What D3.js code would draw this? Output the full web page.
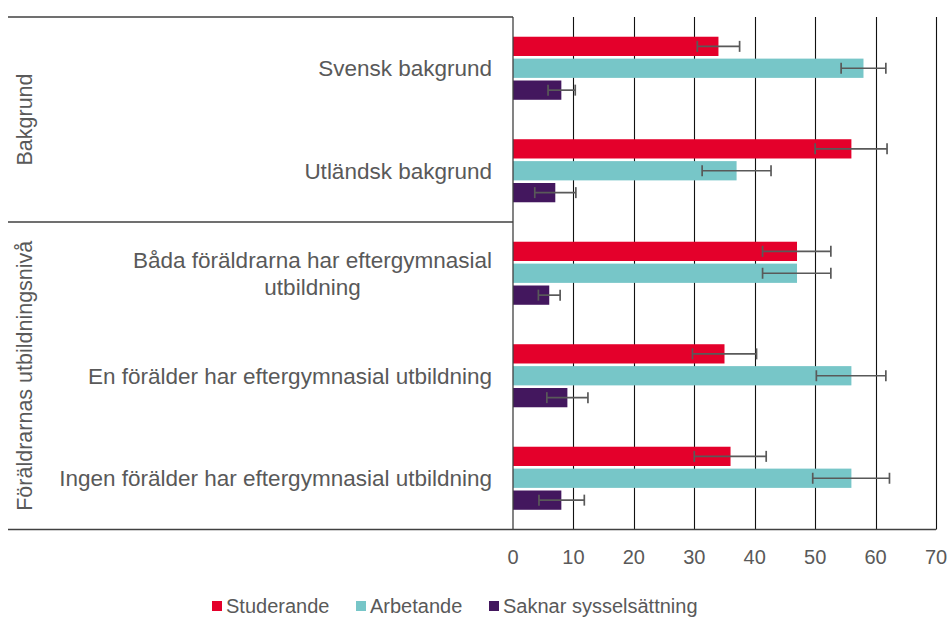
<!DOCTYPE html>
<meta charset="utf-8">
<style>
body { margin: 0; background: #fff; font-family: "Liberation Sans", Arial, sans-serif; }
text { fill: #595959; font-size: 20px; }
.cat { font-size: 22.5px; }
.grp { font-size: 21.5px; }
</style>
<body>
<script src="https://d3js.org/d3.v7.min.js"></script>
<script>

// data
var categories = [
  ["Svensk bakgrund"],
  ["Utländsk bakgrund"],
  ["Båda föräldrarna har eftergymnasial", "utbildning"],
  ["En förälder har eftergymnasial utbildning"],
  ["Ingen förälder har eftergymnasial utbildning"]
];
var groups = [
  {name: "Bakgrund", from: 0, to: 2},
  {name: "Föräldrarnas utbildningsnivå", from: 2, to: 5}
];
var seriesNames = ["Studerande", "Arbetande", "Saknar sysselsättning"];
var colors = ["#e4002b", "#77c6c8", "#43175e"];

var studerande = [34, 56, 47, 35, 36];
var arbetande = [58, 37, 47, 56, 56];
var saknar = [8, 7, 6, 9, 8];

var studerandeLo = [30.5, 50, 41.3, 29.7, 30];
var studerandeHi = [37.5, 61.9, 52.6, 40.3, 41.9];
var arbetandeLo = [54.3, 31.3, 41.3, 50.2, 49.6];
var arbetandeHi = [61.7, 42.7, 52.6, 61.7, 62.3];
var saknarLo = [5.8, 3.6, 4.2, 5.6, 4.3];
var saknarHi = [10.3, 10.4, 7.8, 12.4, 11.8];

var xTicks = [0, 10, 20, 30, 40, 50, 60, 70];

var values = [studerande, arbetande, saknar];
var lows = [studerandeLo, arbetandeLo, saknarLo];
var highs = [studerandeHi, arbetandeHi, saknarHi];

var W = 948, H = 617;
var plotTop = 17, plotBottom = 529.5, frameLeft = 8, x0px = 513;

var svg = d3.select("body").append("svg")
    .attr("width", W)
    .attr("height", H);

var x = d3.scaleLinear().domain([0, 70]).range([x0px, 936]);
var y0 = d3.scaleBand()
    .domain(d3.range(categories.length))
    .range([plotTop, plotBottom])
    .paddingInner(0.385)
    .paddingOuter(0.1925);
var y1 = d3.scaleBand()
    .domain(d3.range(seriesNames.length))
    .range([0, y0.bandwidth()])
    .paddingInner(0.12);

// gridlines
svg.append("g").selectAll("line")
    .data(xTicks.slice(1))
    .enter().append("line")
      .attr("x1", function(d) { return Math.round(x(d)) + 0.5; })
      .attr("x2", function(d) { return Math.round(x(d)) + 0.5; })
      .attr("y1", plotTop)
      .attr("y2", plotBottom)
      .attr("stroke", "#111")
      .attr("stroke-width", 1.1);

// bars
var rows = [];
categories.forEach(function(c, i) {
  values.forEach(function(v, s) {
    rows.push({cat: i, s: s, v: v[i], lo: lows[s][i], hi: highs[s][i]});
  });
});

svg.append("g").selectAll("rect")
    .data(rows)
    .enter().append("rect")
      .attr("x", x(0))
      .attr("y", function(d) { return y0(d.cat) + y1(d.s); })
      .attr("width", function(d) { return x(d.v) - x(0); })
      .attr("height", y1.bandwidth())
      .attr("fill", function(d) { return colors[d.s]; });

// error bars
var eb = svg.append("g")
    .attr("stroke", "#595959")
    .attr("stroke-width", 1.7)
  .selectAll("g")
    .data(rows)
    .enter().append("g")
      .attr("transform", function(d) { return "translate(0," + (y0(d.cat) + y1(d.s) + y1.bandwidth() / 2) + ")"; });
eb.append("line")
    .attr("x1", function(d) { return x(d.lo); })
    .attr("x2", function(d) { return x(d.hi); });
eb.append("line")
    .attr("x1", function(d) { return x(d.lo); })
    .attr("x2", function(d) { return x(d.lo); })
    .attr("y1", -5.5).attr("y2", 5.5);
eb.append("line")
    .attr("x1", function(d) { return x(d.hi); })
    .attr("x2", function(d) { return x(d.hi); })
    .attr("y1", -5.5).attr("y2", 5.5);

// frame lines of the category area
var frame = svg.append("g").attr("stroke", "#404040").attr("stroke-width", 1.3);
frame.append("line")
    .attr("x1", x0px).attr("x2", x0px)
    .attr("y1", plotTop).attr("y2", plotBottom);
frame.append("line")
    .attr("x1", frameLeft).attr("x2", x0px)
    .attr("y1", plotTop).attr("y2", plotTop);
groups.slice(1).forEach(function(g) {
  var yy = y0(g.from) - y0.step() * y0.paddingInner() / 2;
  frame.append("line")
      .attr("x1", frameLeft).attr("x2", x0px)
      .attr("y1", yy).attr("y2", yy);
});
frame.append("line")
    .attr("x1", frameLeft).attr("x2", x(70))
    .attr("y1", plotBottom).attr("y2", plotBottom);

// x axis labels
svg.append("g").selectAll("text")
    .data(xTicks)
    .enter().append("text")
      .attr("x", function(d) { return x(d); })
      .attr("y", 564)
      .attr("text-anchor", "middle")
      .text(function(d) { return d; });

// category labels (multi-line: block right-aligned, lines centred)
var labelRight = 492;
var lineH = 27;
categories.forEach(function(lines, i) {
  var cy = y0(i) + y0.bandwidth() / 2;
  var t = svg.append("text")
      .attr("class", "cat")
      .attr("text-anchor", "middle");
  var spans = lines.map(function(l, k) {
    return t.append("tspan")
        .attr("y", cy + (k - (lines.length - 1) / 2) * lineH)
        .attr("dy", "0.35em")
        .text(l);
  });
  var maxW = d3.max(spans, function(s) { return s.node().getComputedTextLength(); });
  spans.forEach(function(s) { s.attr("x", labelRight - maxW / 2); });
});

// group labels (rotated)
groups.forEach(function(g) {
  var top = g.from === 0 ? plotTop : y0(g.from) - y0.step() * y0.paddingInner() / 2;
  var bot = g.to === categories.length ? plotBottom : y0(g.to) - y0.step() * y0.paddingInner() / 2;
  svg.append("text")
      .attr("class", "grp")
      .attr("transform", "translate(32," + ((top + bot) / 2) + ") rotate(-90)")
      .attr("text-anchor", "middle")
      .text(g.name);
});

// legend
var legendX = [212, 356, 489];
var legend = svg.append("g").selectAll("g")
    .data(seriesNames)
    .enter().append("g")
      .attr("transform", function(d, i) { return "translate(" + legendX[i] + ",601)"; });
legend.append("rect")
    .attr("width", 10)
    .attr("height", 10)
    .attr("fill", function(d, i) { return colors[i]; });
legend.append("text")
    .attr("x", 14)
    .attr("y", 12)
    .text(function(d) { return d; });

</script>
</body>
